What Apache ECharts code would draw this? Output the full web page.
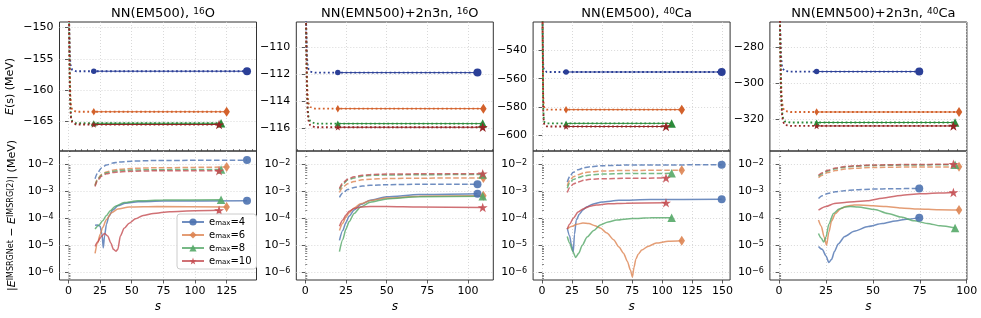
<!DOCTYPE html>
<html><head><meta charset="utf-8">
<script src="https://cdn.jsdelivr.net/npm/echarts@6/dist/echarts.min.js"></script>
<style>html,body{margin:0;padding:0;background:#fff}#c{width:981px;height:318px}</style>
</head><body><div id="c"></div>
<script>
// ================= DATA =================
const emaxValues = [4, 6, 8, 10];
const panelTitles = ['NN(EM500), {sup|16}O', 'NN(EMN500)+2n3n, {sup|16}O', 'NN(EM500), {sup|40}Ca', 'NN(EMN500)+2n3n, {sup|40}Ca'];
const xTickLabels = [[0,25,50,75,100,125],[0,25,50,75,100],[0,25,50,75,100,125,150],[0,25,50,75,100]];
const xLimits = [[-7.1,148.6],[-5.5,115.5],[-7.4,156.4],[-4.9,100.1]];
const topYTickLabels = [[-150,-155,-160,-165],[-110,-112,-114,-116],[-540,-560,-580,-600],[-280,-300,-320]];
const topYLimits = [[-169.8,-149.1],[-117.66,-108.1],[-611.1,-520],[-337.3,-266.2]];
const logTickLabels = [1e-6,1e-5,1e-4,1e-3,1e-2];
const logLimits = [Math.pow(10,-6.29), Math.pow(10,-1.51)];

// E(s) flow: s grid for the early flow, values per emax (4,6,8,10)
const flowS = [0, 0.5, 1, 1.5, 2, 3, 4, 6, 10];
const flowE_O16_EM500 = [
 [-110, -149, -154, -155.8, -156.4, -156.8, -156.95, -157.0, -157.0],
 [-105, -149, -157, -161, -162.6, -163.2, -163.4, -163.5, -163.5],
 [-102, -149, -158.5, -162.6, -164.3, -165.0, -165.25, -165.35, -165.35],
 [-100, -149, -159, -163, -164.6, -165.2, -165.45, -165.55, -165.55]
];
const flowE_O16_EMN = [
 [-90, -108, -110.6, -111.35, -111.6, -111.78, -111.83, -111.85, -111.85],
 [-88, -108, -112, -113.6, -114.1, -114.4, -114.48, -114.52, -114.52],
 [-87, -108, -112.8, -114.5, -115.1, -115.45, -115.58, -115.63, -115.63],
 [-86, -108, -113, -114.8, -115.4, -115.75, -115.85, -115.9, -115.9]
];
const flowE_Ca40_EM500 = [
 [-400, -525, -550, -553.8, -554.8, -555.2, -555.3, -555.3, -555.3],
 [-390, -525, -572, -579, -581, -581.7, -581.85, -581.9, -581.9],
 [-385, -525, -580, -588.5, -590.7, -591.4, -591.55, -591.6, -591.6],
 [-380, -525, -582, -590.5, -593, -593.6, -593.75, -593.8, -593.8]
];
const flowE_Ca40_EMN = [
 [-200, -268, -284, -290, -292, -293.2, -293.4, -293.5, -293.5],
 [-195, -268, -298, -309, -313.5, -315.2, -315.6, -315.8, -315.8],
 [-190, -268, -303, -314.5, -318.8, -321, -321.4, -321.6, -321.6],
 [-188, -268, -305, -316.5, -320.8, -322.9, -323.3, -323.5, -323.5]
];
// IMSRGNet start s, end s and energies
const netStartS = 20;
const sEnd_O16_EM500 = [141.1, 125, 120.6, 119];
const eNet_O16_EM500 = [-157.0, -163.5, -165.35, -165.55];
const sEnd_O16_EMN = [105.8, 109.4, 109, 109];
const eNet_O16_EMN = [-111.85, -114.52, -115.63, -115.9];
const sEnd_Ca40_EM500 = [149.4, 116.2, 107.8, 103.1];
const eNet_Ca40_EM500 = [-555.3, -581.9, -591.6, -593.8];
const sEnd_Ca40_EMN = [74.7, 95.9, 93.8, 92.9];
const eNet_Ca40_EMN = [-293.5, -315.8, -321.6, -323.5];

// |E^IMSRGNet - E^IMSRG(2)| : dashed and solid curves, [s, value]
const errDashed_O16_EM500 = [
 [[21,2.9e-3],[23,4.8e-3],[26,7.3e-3],[30,9.3e-3],[35,1.1e-2],[40,1.2e-2],[50,1.3e-2],[70,1.38e-2],[141.1,1.42e-2]],
 [[21,1.7e-3],[23,2.9e-3],[26,4.2e-3],[30,5.2e-3],[35,6e-3],[40,6.5e-3],[50,7e-3],[70,7.4e-3],[125,7.9e-3]],
 [[21,1.6e-3],[23,2.7e-3],[26,3.9e-3],[30,4.8e-3],[35,5.4e-3],[40,5.8e-3],[50,6.1e-3],[70,6.3e-3],[120.6,6.4e-3]],
 [[21,1.5e-3],[23,2.5e-3],[26,3.6e-3],[30,4.4e-3],[35,4.9e-3],[40,5.2e-3],[50,5.5e-3],[70,5.7e-3],[119,5.7e-3]]
];
const errSolid_O16_EM500 = [
 [[21,5.5e-5],[23,5.6e-5],[25,5e-5],[26.5,2.5e-5],[27.5,8e-6],[28.5,2.2e-5],[30,6e-5],[32,1.2e-4],[35,2e-4],[39,2.9e-4],[45,3.6e-4],[55,4.1e-4],[75,4.3e-4],[141.1,4.4e-4]],
 [[21,5e-6],[23,1.2e-5],[25,2.5e-5],[27,4.5e-5],[30,9e-5],[34,1.6e-4],[39,2.2e-4],[48,2.6e-4],[70,2.7e-4],[125,2.6e-4]],
 [[21,4e-5],[24,5.5e-5],[27,8e-5],[30,1.25e-4],[33,1.9e-4],[37,2.8e-4],[44,3.8e-4],[55,4.4e-4],[75,4.7e-4],[120.6,4.8e-4]],
 [[21,9e-6],[23,1.3e-5],[25.5,2e-5],[28.5,2.7e-5],[31,2.2e-5],[33.5,1.2e-5],[35.5,7e-6],[37.5,6e-6],[39,7e-6],[41,2.2e-5],[44,4.2e-5],[48,6.5e-5],[53,9.5e-5],[59,1.25e-4],[67,1.5e-4],[80,1.75e-4],[100,1.9e-4],[119,1.95e-4]]
];
const errDashed_O16_EMN = [
 [[21,5.9e-4],[23,8.5e-4],[26,1.15e-3],[30,1.38e-3],[35,1.55e-3],[40,1.65e-3],[50,1.75e-3],[70,1.8e-3],[105.8,1.8e-3]],
 [[21,9e-4],[23,1.4e-3],[26,1.9e-3],[30,2.3e-3],[35,2.65e-3],[40,2.8e-3],[50,2.95e-3],[70,3.05e-3],[109.4,3.1e-3]],
 [[21,1.15e-3],[23,1.8e-3],[26,2.6e-3],[30,3.1e-3],[35,3.6e-3],[40,3.85e-3],[50,4e-3],[70,4.1e-3],[109,4.15e-3]],
 [[21,1.26e-3],[23,2e-3],[26,2.8e-3],[30,3.4e-3],[35,3.9e-3],[40,4.15e-3],[50,4.3e-3],[70,4.4e-3],[109,4.45e-3]]
];
const errSolid_O16_EMN = [
 [[21,1.5e-5],[23,3.5e-5],[25,7e-5],[27,1.2e-4],[30,2e-4],[34,3.2e-4],[40,4.6e-4],[50,6.2e-4],[70,7.5e-4],[105.8,8e-4]],
 [[21,3.5e-5],[23,6.5e-5],[25,1.1e-4],[27,1.6e-4],[30,2.4e-4],[34,3.4e-4],[40,4.5e-4],[50,5.6e-4],[70,6.5e-4],[109.4,6.8e-4]],
 [[21,5.8e-6],[23,1.6e-5],[25,4e-5],[27,7.5e-5],[30,1.5e-4],[34,2.6e-4],[40,3.9e-4],[50,5.2e-4],[70,6.2e-4],[109,6.5e-4]],
 [[21,5e-5],[23,8.5e-5],[25,1.3e-4],[27,1.8e-4],[30,2.3e-4],[34,2.6e-4],[40,2.7e-4],[50,2.7e-4],[70,2.6e-4],[109,2.5e-4]]
];
const errDashed_Ca40_EM500 = [
 [[21,2.2e-3],[23,3.5e-3],[26,5e-3],[30,6.3e-3],[35,7.4e-3],[40,8e-3],[50,8.8e-3],[70,9.3e-3],[149.4,9.6e-3]],
 [[21,1.6e-3],[23,2.5e-3],[26,3.4e-3],[30,4.1e-3],[35,4.8e-3],[40,5.2e-3],[50,5.6e-3],[70,5.9e-3],[116.2,6e-3]],
 [[21,1.3e-3],[23,2e-3],[26,2.7e-3],[30,3.2e-3],[35,3.7e-3],[40,4e-3],[50,4.3e-3],[70,4.5e-3],[107.8,4.6e-3]],
 [[21,9e-4],[23,1.35e-3],[26,1.85e-3],[30,2.2e-3],[35,2.55e-3],[40,2.75e-3],[50,2.9e-3],[70,3e-3],[103.1,3.1e-3]]
];
const errSolid_Ca40_EM500 = [
 [[21,4.3e-5],[23,2.2e-5],[24.5,1e-5],[26,5.7e-6],[27,2.5e-5],[28.5,8.5e-5],[31,1.4e-4],[34,2e-4],[37,2.6e-4],[42,3.3e-4],[50,4e-4],[64,4.6e-4],[90,4.9e-4],[149.4,5e-4]],
 [[21,4e-5],[25,5e-5],[29,6e-5],[34,6.6e-5],[39,6.3e-5],[44,5.3e-5],[48.5,4.3e-5],[54,2.8e-5],[59.5,1.6e-5],[64,8.5e-6],[67.8,5e-6],[71,2.5e-6],[73.5,1.2e-6],[75.2,6.6e-7],[76.5,1.5e-6],[78,3e-6],[80,4.6e-6],[83,6.6e-6],[88,9e-6],[95,1.2e-5],[105,1.4e-5],[116.2,1.45e-5]],
 [[21,2.1e-5],[23,1.2e-5],[25.5,6e-6],[28,3.5e-6],[30.5,5e-6],[33.5,1e-5],[37.5,2e-5],[43,3.5e-5],[48.5,5.6e-5],[55,7.3e-5],[62,8.5e-5],[75,9.8e-5],[90,1.03e-4],[107.8,1.05e-4]],
 [[21,4e-5],[23,6e-5],[26,1e-4],[30,1.7e-4],[35,2.3e-4],[40,2.8e-4],[45,3.1e-4],[55,3.4e-4],[70,3.6e-4],[103.1,3.7e-4]]
];
const errDashed_Ca40_EMN = [
 [[21,5.4e-4],[23,6.8e-4],[26,8.3e-4],[30,9.5e-4],[35,1.05e-3],[40,1.12e-3],[50,1.2e-3],[60,1.24e-3],[74.7,1.26e-3]],
 [[21,3.2e-3],[23,3.9e-3],[26,4.9e-3],[30,5.8e-3],[35,6.6e-3],[40,7.1e-3],[50,7.6e-3],[70,7.9e-3],[95.9,8e-3]],
 [[21,3.6e-3],[23,4.4e-3],[26,5.6e-3],[30,6.8e-3],[35,7.8e-3],[40,8.4e-3],[50,9e-3],[70,9.4e-3],[93.8,9.6e-3]],
 [[21,3.9e-3],[23,4.8e-3],[26,6e-3],[30,7.2e-3],[35,8.2e-3],[40,8.8e-3],[50,9.4e-3],[70,9.8e-3],[92.9,1e-2]]
];
const errSolid_Ca40_EMN = [
 [[21,9e-6],[23,7e-6],[25,4e-6],[26.5,2.3e-6],[28,3e-6],[29.5,5.8e-6],[31.5,1.1e-5],[35,2.1e-5],[40,3.3e-5],[47.5,4.9e-5],[55,6.3e-5],[62,7.9e-5],[68,9.2e-5],[74.7,1.05e-4]],
 [[21,8.5e-5],[22.5,5e-5],[24,2e-5],[25.3,1e-5],[26.5,3e-5],[28,8e-5],[30,1.5e-4],[33,2.3e-4],[36,2.8e-4],[40,3.1e-4],[45,3.05e-4],[50,2.9e-4],[57,2.7e-4],[65,2.4e-4],[74,2.2e-4],[85,2.05e-4],[95.9,2e-4]],
 [[21,2.7e-5],[22.5,1.8e-5],[23.8,1.3e-5],[25,2e-5],[26.5,6e-5],[29,1.5e-4],[32,2.2e-4],[35,2.6e-4],[38,2.7e-4],[42,2.6e-4],[51,2.1e-4],[58,1.5e-4],[65,1.1e-4],[72,8e-5],[79,6.4e-5],[86,5.2e-5],[93.8,4.3e-5]],
 [[21,2e-4],[25,2.7e-4],[29.5,3.5e-4],[35,3.8e-4],[40,4.1e-4],[47,4.4e-4],[55,5.5e-4],[65,7e-4],[75,8e-4],[85,8.6e-4],[92.9,9e-4]]
];

// ================= BUILD =================
const flowE = [flowE_O16_EM500, flowE_O16_EMN, flowE_Ca40_EM500, flowE_Ca40_EMN];
const sEnd = [sEnd_O16_EM500, sEnd_O16_EMN, sEnd_Ca40_EM500, sEnd_Ca40_EMN];
const eNet = [eNet_O16_EM500, eNet_O16_EMN, eNet_Ca40_EM500, eNet_Ca40_EMN];
const errDashed = [errDashed_O16_EM500, errDashed_O16_EMN, errDashed_Ca40_EM500, errDashed_Ca40_EMN];
const errSolid = [errSolid_O16_EM500, errSolid_O16_EMN, errSolid_Ca40_EM500, errSolid_Ca40_EMN];

const FONT = 'DejaVu Sans';
const lefts = [59.5, 296.3, 533.1, 769.9];
const W = 197, H = 129, TOP1 = 22, TOP2 = 151;
const colorsTop = ['#2b3f97', '#d3612b', '#2b8b3b', '#942525'];
const colorsBot = ['#4c72b0', '#dd8452', '#55a868', '#c44e52'];
const STAR = 'path://M50,0L61.2,34.5L97.6,34.5L68.2,55.9L79.4,90.5L50,69.1L20.6,90.5L31.8,55.9L2.4,34.5L38.8,34.5Z';
const symbols = ['circle', 'diamond', 'triangle', STAR];
const endSizes = [8, [6.5, 10], 8.5, 10];
const startSizes = [5.5, [4.5, 7.5], 6, 7];
const gridLine = {show: true, lineStyle: {color: '#cfcfcf', width: 0.8, type: [1, 2]}};
const tickStyle = {color: '#333', width: 0.8};
const minus = v => String(v).replace('-', '\u2212');

const grids = [], xAxes = [], yAxes = [], series = [], titles = [];
for (let p = 0; p < 4; p++) {
  grids.push({left: lefts[p], top: TOP1, width: W, height: H, show: true, borderColor: '#333', borderWidth: 1, backgroundColor: 'transparent'});
  titles.push({text: panelTitles[p], left: lefts[p] + W / 2, top: 2, textAlign: 'center',
    textStyle: {fontFamily: FONT, fontSize: 13, fontWeight: 'normal', color: '#000',
      rich: {sup: {fontFamily: FONT, fontSize: 9, verticalAlign: 'top', color: '#000'}}}});
}
for (let p = 0; p < 4; p++) {
  grids.push({left: lefts[p], top: TOP2, width: W, height: H, show: true, borderColor: '#333', borderWidth: 1, backgroundColor: 'transparent'});
}
// x axes: 0-3 top, 4-7 bottom, 8-11 bottom minor ticks
for (let g = 0; g < 8; g++) {
  const p = g % 4, bottom = g >= 4;
  xAxes.push({type: 'value', gridIndex: g, min: xLimits[p][0], max: xLimits[p][1],
    axisLine: {show: false},
    axisTick: {show: bottom, customValues: xTickLabels[p], length: 3.5, lineStyle: tickStyle},
    axisLabel: {show: bottom, customValues: xTickLabels[p], fontFamily: FONT, fontSize: 11, color: '#000', margin: 6},
    splitLine: gridLine,
    name: bottom ? 's' : '', nameLocation: 'middle', nameGap: 21,
    nameTextStyle: {fontFamily: FONT, fontSize: 12, fontStyle: 'italic', color: '#000'}});
}
for (let p = 0; p < 4; p++) {
  const minor = [];
  for (let v = -5; v <= xLimits[p][1]; v += 5) if (v % 25 !== 0 && v >= xLimits[p][0]) minor.push(v);
  xAxes.push({type: 'value', gridIndex: p + 4, min: xLimits[p][0], max: xLimits[p][1],
    axisLine: {show: false}, axisLabel: {show: false}, splitLine: {show: false},
    axisTick: {show: true, customValues: minor, length: 2, lineStyle: {color: '#333', width: 0.6}}});
}
// y axes: 0-3 top, 4-7 bottom log, 8-11 log minor
for (let p = 0; p < 4; p++) {
  yAxes.push({type: 'value', gridIndex: p, min: topYLimits[p][0], max: topYLimits[p][1],
    axisLine: {show: false},
    axisTick: {show: true, customValues: topYTickLabels[p], length: 3.5, lineStyle: tickStyle},
    axisLabel: {customValues: topYTickLabels[p], formatter: minus, fontFamily: FONT, fontSize: 11, color: '#000', margin: 6},
    splitLine: gridLine,
    name: p === 0 ? '{i|E}(s) (MeV)' : '', nameLocation: 'middle', nameGap: 44,
    nameTextStyle: {fontFamily: FONT, fontSize: 11, color: '#000',
      rich: {i: {fontFamily: FONT, fontSize: 11, fontStyle: 'italic', color: '#000'}}}});
}
for (let p = 0; p < 4; p++) {
  yAxes.push({type: 'log', logBase: 10, gridIndex: p + 4, min: logLimits[0], max: logLimits[1],
    axisLine: {show: false},
    axisTick: {show: true, customValues: logTickLabels, length: 3.5, lineStyle: tickStyle},
    axisLabel: {customValues: logTickLabels, fontFamily: FONT, fontSize: 11, color: '#000', margin: 6,
      formatter: v => '10{sup|\u2212' + Math.round(-Math.log10(v)) + '}',
      rich: {sup: {fontFamily: FONT, fontSize: 8, verticalAlign: 'top', color: '#000'}}},
    splitLine: gridLine,
    name: p === 0 ? '|{i|E}{sup|IMSRGNet} \u2212 {i|E}{sup|IMSRG(2)}| (MeV)' : '', nameLocation: 'middle', nameGap: 42,
    nameTextStyle: {fontFamily: FONT, fontSize: 11, color: '#000',
      rich: {i: {fontFamily: FONT, fontSize: 11, fontStyle: 'italic', color: '#000'},
             sup: {fontFamily: FONT, fontSize: 8, verticalAlign: 'top', color: '#000'}}}});
}
const minorLog = [];
for (let e = -7; e <= -2; e++) for (let k = 2; k <= 9; k++) minorLog.push(k * Math.pow(10, e));
for (let p = 0; p < 4; p++) {
  yAxes.push({type: 'log', logBase: 10, gridIndex: p + 4, min: logLimits[0], max: logLimits[1],
    axisLine: {show: false}, axisLabel: {show: false}, splitLine: {show: false},
    axisTick: {show: true, customValues: minorLog, length: 2, lineStyle: {color: '#333', width: 0.6}}});
}

function endMarked(pairs, k) {
  return pairs.map((d, i) => i === pairs.length - 1 ? {value: d, symbolSize: endSizes[k]} : {value: d, symbol: 'none'});
}
for (let p = 0; p < 4; p++) {
  for (let k = 0; k < 4; k++) {
    // top: IMSRG(2) flow, dotted
    const flow = flowS.map((s, i) => [s, flowE[p][k][i]]);
    flow.push([netStartS, eNet[p][k]], [sEnd[p][k], eNet[p][k]]);
    series.push({type: 'line', xAxisIndex: p, yAxisIndex: p, data: flow, symbol: 'none', silent: true,
      lineStyle: {color: colorsTop[k], width: 1.8, type: [1.8, 2.6]}, z: 2});
    // top: IMSRGNet
    series.push({type: 'line', xAxisIndex: p, yAxisIndex: p, symbol: symbols[k], symbolKeepAspect: true, silent: true,
      data: [{value: [netStartS, eNet[p][k]], symbolSize: startSizes[k]}, {value: [sEnd[p][k], eNet[p][k]], symbolSize: endSizes[k]}],
      lineStyle: {color: colorsTop[k], width: 1}, itemStyle: {color: colorsTop[k]}, z: 3});
    // bottom dashed
    series.push({type: 'line', xAxisIndex: p + 4, yAxisIndex: p + 4, symbol: symbols[k], symbolKeepAspect: true, silent: true,
      smooth: 0.25, smoothMonotone: 'x', data: endMarked(errDashed[p][k], k),
      lineStyle: {color: colorsBot[k], width: 1.5, type: [5.5, 2.4], opacity: 0.8},
      itemStyle: {color: colorsBot[k], opacity: 0.9}, z: 2});
    // bottom solid
    series.push({type: 'line', name: p === 0 ? 'e' + emaxValues[k] : 'p' + p + 'e' + emaxValues[k],
      xAxisIndex: p + 4, yAxisIndex: p + 4, symbol: symbols[k], symbolKeepAspect: true, silent: true,
      smooth: 0.25, smoothMonotone: 'x', data: endMarked(errSolid[p][k], k),
      lineStyle: {color: colorsBot[k], width: 1.5, opacity: 0.8},
      itemStyle: {color: colorsBot[k], opacity: 0.9}, z: 3});
  }
}

const option = {
  animation: false,
  backgroundColor: '#fff',
  textStyle: {fontFamily: FONT},
  title: titles,
  legend: {data: emaxValues.map(e => 'e' + e), orient: 'vertical', left: 177, top: 214,
    itemWidth: 22, itemHeight: 9, itemGap: 3, padding: [3, 5, 3, 4],
    borderColor: '#cccccc', borderWidth: 1, borderRadius: 3, backgroundColor: 'rgba(255,255,255,0.85)',
    formatter: n => 'e{sub|max}=' + n.slice(1),
    textStyle: {fontFamily: FONT, fontSize: 10, color: '#000',
      rich: {sub: {fontFamily: FONT, fontSize: 7, verticalAlign: 'bottom', color: '#000'}}}},
  grid: grids,
  xAxis: xAxes,
  yAxis: yAxes,
  series: series
};
const chart = echarts.init(document.getElementById('c'), null, {renderer: 'canvas'});
chart.setOption(option);
</script>
</body></html>
